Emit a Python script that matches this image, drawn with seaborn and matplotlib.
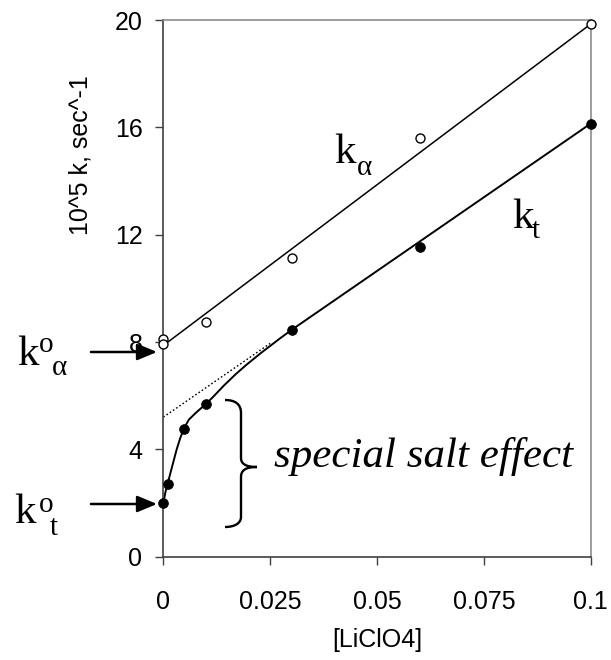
import numpy as np
import pandas as pd
import matplotlib
matplotlib.use("Agg")
import matplotlib.pyplot as plt
from matplotlib.path import Path
from matplotlib.patches import PathPatch
import seaborn as sns

# ---------------- data ----------------
x_alpha = [0.0, 0.0, 0.01, 0.03, 0.06, 0.1]
k_alpha = [8.10, 7.93, 8.75, 11.13, 15.62, 19.85]

x_t = [0.0, 0.001, 0.0048, 0.01, 0.03, 0.06, 0.1]
k_t = [1.99, 2.71, 4.75, 5.70, 8.45, 11.54, 16.14]

# linear fits
fit_x = [0.0, 0.1]
fit_alpha = [7.87, 19.85]
fit_t_x = [0.03, 0.1]
fit_t = [8.45, 16.14]
extrap_x = [0.0, 0.025]
extrap_t = [5.20, 7.95]

# smoothed low-salt curve passes through these k_t points
curve_x = [0.0, 0.001, 0.0048, 0.01, 0.03, 0.1]
curve_k = [1.99, 2.71, 4.75, 5.70, 8.45, 16.14]

x_ticks = [0, 0.025, 0.05, 0.075, 0.1]
x_ticklabels = ["0", "0.025", "0.05", "0.075", "0.1"]
y_ticks = [0, 4, 8, 12, 16, 20]
y_ticklabels = ["0", "4", "8", "12", "16", "20"]

xlabel = "[LiClO4]"
ylabel = "10^5 k, sec^-1"
effect_label = "special salt effect"

# ---------------- figure ----------------
W, H = 611, 660
sns.set_theme(style="white")
plt.rcParams["font.family"] = ["Liberation Sans", "DejaVu Sans"]
plt.rcParams["text.color"] = "black"
plt.rcParams["axes.labelcolor"] = "black"

fig = plt.figure(figsize=(W / 100, H / 100), dpi=100)
ax = fig.add_axes([163.3 / W, 1 - 556.7 / H, (590.7 - 163.3) / W, (556.7 - 20) / H])

# fitted line for k_alpha
sns.lineplot(x=fit_x, y=fit_alpha, ax=ax, color="black", linewidth=1.1,
             estimator=None, sort=False)
# fitted line for k_t at higher salt
sns.lineplot(x=fit_t_x, y=fit_t, ax=ax, color="black", linewidth=1.4,
             estimator=None, sort=False)
# dotted extrapolation
sns.lineplot(x=extrap_x, y=extrap_t, ax=ax, color="black", linewidth=1.0,
             linestyle=(0, (1.2, 1.6)), estimator=None, sort=False)

# smoothed curve (Excel-style Bezier smoothing), drawn only up to x=0.03
pts = np.column_stack([curve_x, curve_k])
verts = [tuple(pts[0])]
codes = [Path.MOVETO]
n = len(pts)
for i in range(n - 2):
    p0 = pts[i - 1] if i > 0 else pts[i]
    p1 = pts[i]
    p2 = pts[i + 1]
    p3 = pts[i + 2] if i + 2 < n else pts[i + 1]
    c1 = p1 + (p2 - p0) / 6.0
    c2 = p2 - (p3 - p1) / 6.0
    verts += [tuple(c1), tuple(c2), tuple(p2)]
    codes += [Path.CURVE4] * 3
ax.add_patch(PathPatch(Path(verts, codes), facecolor="none", edgecolor="black",
                       linewidth=1.4, transform=ax.transData, clip_on=False))

# points
df_a = pd.DataFrame({"x": x_alpha, "k": k_alpha})
df_t = pd.DataFrame({"x": x_t, "k": k_t})
sns.scatterplot(data=df_a, x="x", y="k", ax=ax, marker="o", s=42,
                facecolor="white", edgecolor="black", linewidth=1.0,
                clip_on=False, zorder=5)
sns.scatterplot(data=df_t, x="x", y="k", ax=ax, marker="o", s=50,
                color="black", edgecolor="black", linewidth=0.5,
                clip_on=False, zorder=5)

ax.set_xlim(0, 0.1)
ax.set_ylim(0, 20)
ax.set_xticks(x_ticks)
ax.set_xticklabels(x_ticklabels)
ax.set_yticks(y_ticks)
ax.set_yticklabels(y_ticklabels)
ax.tick_params(axis="both", which="major", direction="out", length=6,
               width=1.0, color="#404040", labelsize=18, labelcolor="black")
ax.tick_params(axis="x", pad=18, bottom=True)
ax.tick_params(axis="y", pad=9, left=True)

for side in ["left", "bottom"]:
    ax.spines[side].set_color("#404040")
    ax.spines[side].set_linewidth(1.2)
for side in ["top", "right"]:
    ax.spines[side].set_color("#8c8c8c")
    ax.spines[side].set_linewidth(1.2)
ax.set_facecolor("white")

ax.set_xlabel(xlabel, fontsize=18, labelpad=10, color="black")
ax.set_ylabel(ylabel, fontsize=18, color="black")
ax.yaxis.set_label_coords(-0.165, 0.748)

# ---------------- annotations ----------------
SERIF = ["Liberation Serif", "DejaVu Serif"]
BIG, SMALL = 31, 21


def ftext(xp, yp, s, size, style="normal"):
    fig.text(xp / W, 1 - yp / H, s, fontsize=size, family=SERIF,
             ha="left", va="baseline", style=style, color="black")


# k_alpha label
ftext(334, 163, "k", BIG)
ftext(357, 175, "\u03b1", SMALL)
# k_t label
ftext(512, 228, "k", BIG)
ftext(532, 238, "t", SMALL)
# k0_alpha
ftext(17, 365, "k", BIG)
ftext(39, 352, "o", SMALL)
ftext(52, 375, "\u03b1", SMALL)
# k0_t
ftext(14, 523, "k", BIG)
ftext(39, 512, "o", SMALL)
ftext(50, 535, "t", SMALL)
# special salt effect
ftext(274, 467, effect_label, BIG, style="italic")

# arrows
for yp in (352, 504):
    ax.annotate("", xy=(157 / W, 1 - yp / H), xycoords="figure fraction",
                xytext=(91 / W, 1 - yp / H), textcoords="figure fraction",
                arrowprops=dict(arrowstyle="-|>,head_length=0.6,head_width=0.25",
                                mutation_scale=20, color="black", lw=1.8,
                                shrinkA=0, shrinkB=0),
                annotation_clip=False)

# brace
bp = [(225, 400), (235, 400), (241, 404), (241, 413),
      (241, 458),
      (241, 464), (246, 467), (257, 467),
      (246, 467), (241, 470), (241, 477),
      (241, 517),
      (241, 523), (235, 527), (225, 527)]
bcodes = [Path.MOVETO, Path.CURVE4, Path.CURVE4, Path.CURVE4,
          Path.LINETO,
          Path.CURVE4, Path.CURVE4, Path.CURVE4,
          Path.CURVE4, Path.CURVE4, Path.CURVE4,
          Path.LINETO,
          Path.CURVE4, Path.CURVE4, Path.CURVE4]
bverts = [(x / W, 1 - y / H) for x, y in bp]
fig.add_artist(PathPatch(Path(bverts, bcodes), facecolor="none",
                         edgecolor="black", linewidth=1.7,
                         transform=fig.transFigure))

fig.savefig("out.png", dpi=100, facecolor="white")
